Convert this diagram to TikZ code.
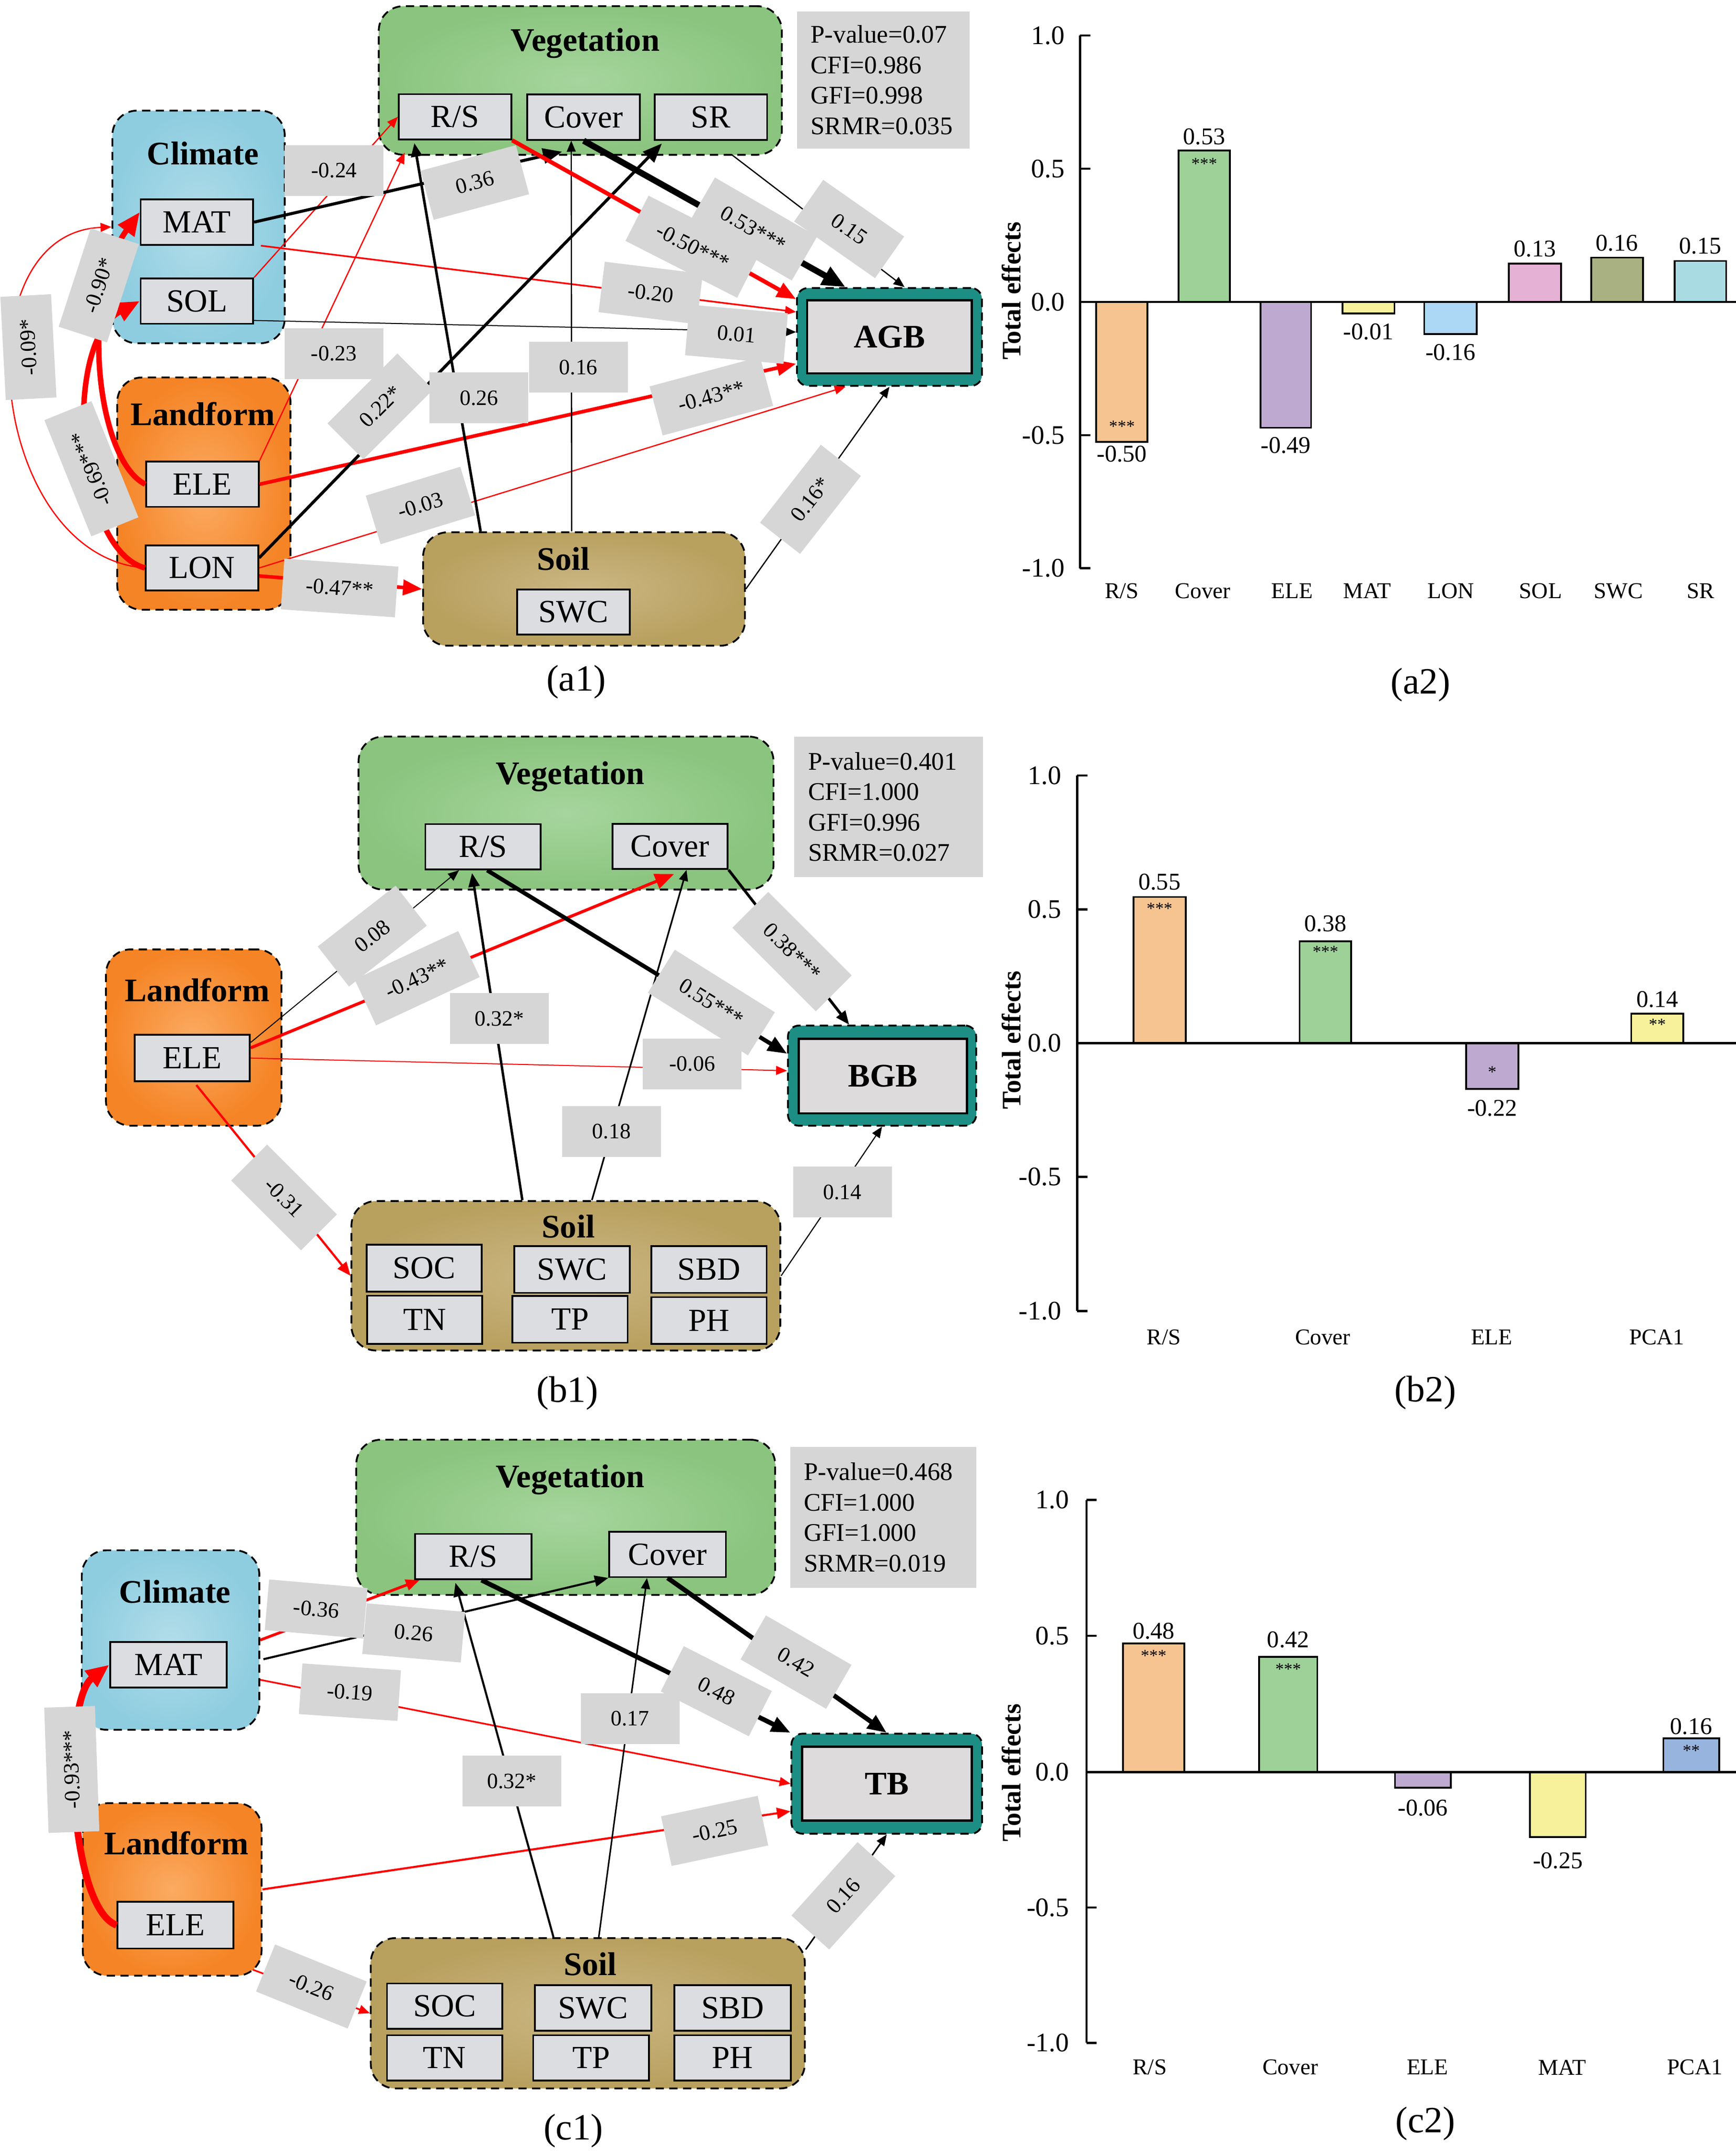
\documentclass[tikz,border=0pt]{standalone}
\usepackage{fontspec}
\setmainfont{Liberation Serif}
\usepackage{tikz}
\usetikzlibrary{arrows.meta, calc, positioning}

\definecolor{lbgray}{HTML}{D6D6D6}
\definecolor{varfill}{HTML}{DCDDE0}
\definecolor{outfill}{HTML}{DDDBDC}
\definecolor{tealbox}{HTML}{1D8E83}
\definecolor{climin}{HTML}{B2DDE9}
\definecolor{climout}{HTML}{8ECDE0}
\definecolor{landin}{HTML}{FBAB62}
\definecolor{landout}{HTML}{F58426}
\definecolor{vegin}{HTML}{A6D59D}
\definecolor{vegout}{HTML}{8AC47E}
\definecolor{soilin}{HTML}{CBB783}
\definecolor{soilout}{HTML}{B8A05F}
\definecolor{barRS}{HTML}{F5C491}
\definecolor{barCov}{HTML}{9DD198}
\definecolor{barELE}{HTML}{BEAAD0}
\definecolor{barMAT}{HTML}{F6F19A}
\definecolor{barLON}{HTML}{ACD7F5}
\definecolor{barSOL}{HTML}{E5B2D5}
\definecolor{barSWC}{HTML}{A9B182}
\definecolor{barSR}{HTML}{A9DCE2}
\definecolor{barPCA}{HTML}{97B4DE}

\begin{document}
\begin{tikzpicture}[x=1pt, y=-1pt,
		group/.style={draw, line width=1.3pt, dash pattern=on 6pt off 4pt, rounded corners=18pt, inner sep=0pt},
		climbox/.style={group, inner color=climin, outer color=climout},
		landbox/.style={group, inner color=landin, outer color=landout},
		vegbox/.style={group, inner color=vegin, outer color=vegout},
		soilbox/.style={group, inner color=soilin, outer color=soilout},
		gtitle/.style={font=\fontsize{24}{26}\selectfont\bfseries},
		var/.style={draw, line width=1.3pt, fill=varfill, minimum width=82pt, minimum height=33pt, inner sep=0pt, font=\fontsize{23.5}{25}\selectfont},
		outcome/.style={draw, line width=1.3pt, dash pattern=on 6pt off 4pt, rounded corners=8pt, fill=tealbox, inner sep=0pt},
		target/.style={draw, line width=1.6pt, fill=outfill, inner sep=0pt, font=\fontsize{24}{26}\selectfont\bfseries},
		stats/.style={fill=lbgray, inner xsep=10pt, inner ysep=0pt, align=left, font=\fontsize{18.5}{22.2}\selectfont},
		coef/.style={fill=lbgray, inner xsep=17pt, inner ysep=0pt, minimum width=72pt, minimum height=37pt, font=\fontsize{16}{18}\selectfont},
		negr/.style={draw=red},
		pthin/.style={-{Triangle[length=8pt,width=6.5pt]}, line width=0.9pt},
		pmed/.style={-{Triangle[length=10pt,width=8pt]}, line width=1.6pt},
		pthick/.style={-{Triangle[length=14pt,width=11pt]}, line width=2.6pt},
		pheavy/.style={-{Triangle[length=17pt,width=14pt]}, line width=4pt},
		capt/.style={font=\fontsize{27}{30}\selectfont},
		axisl/.style={line width=1.6pt},
		barbox/.style={draw, line width=1.3pt},
		ticklab/.style={anchor=east, font=\fontsize{19.5}{21}\selectfont},
		ylab/.style={rotate=90, font=\fontsize{19.5}{21}\selectfont\bfseries},
		xlab/.style={font=\fontsize{16.5}{18}\selectfont},
		val/.style={font=\fontsize{17.5}{19}\selectfont},
		sig/.style={font=\fontsize{12.5}{14}\selectfont}
		]
	\useasboundingbox (0,0) rectangle (1265.1,1567.6);

	% --- (a1) : AGB ---
	\node[vegbox, minimum width=293.8pt, minimum height=108.3pt] (VegA) at (422.9,58.65) {};
	\node[climbox, minimum width=125.6pt, minimum height=169.6pt] (ClimA) at (144.7,165.4) {};
	\node[landbox, minimum width=126.3pt, minimum height=169.3pt] (LandA) at (148.55,359.75) {};
	\node[soilbox, minimum width=234.6pt, minimum height=82.7pt] (SoilA) at (425.6,429.25) {};
	\node[gtitle] (VegAt) at (426.5,31.6) {Vegetation};
	\node[gtitle] (ClimAt) at (147.8,111.9) {Climate};
	\node[gtitle] (LandAt) at (147.8,301.6) {Landform};
	\node[gtitle] (SoilAt) at (410.6,407.4) {Soil};
	\node[stats, text width=105.7pt, minimum height=99.9pt] (StatA) at (643.65,58.35) {P-value=0.07\\CFI=0.986\\GFI=0.998\\SRMR=0.035};
	\node[outcome, minimum width=134.8pt, minimum height=71.3pt] (AGB) at (648.2,245.55) {};
	\node[target, minimum width=120pt, minimum height=53.2pt] (AGBt) at (648.2,245.5) {AGB};

	\node[var] (RSa) at (331.6,85.1) {R/S};
	\node[var] (Cova) at (425.3,85.4) {Cover};
	\node[var] (SRa) at (518,85.4) {SR};
	\node[var] (MATa) at (143.5,161.9) {MAT};
	\node[var] (SOLa) at (143.5,219.4) {SOL};
	\node[var] (ELEa) at (147.5,352.9) {ELE};
	\node[var] (LONa) at (147.2,413.9) {LON};
	\node[var] (SWCa) at (417.9,446) {SWC};

	\draw[pthin, negr] (LONa.west) .. controls (-8,405) and (-30,170) .. (ClimA.west);
	\draw[pheavy, negr] (ELEa.west) .. controls (70,335) and (58,215) .. (MATa.170);
	\draw[pheavy, negr] (LONa.west) .. controls (55,400) and (45,250) .. (SOLa.west);
	\draw[pthin, negr] (SOLa.north east) -- (RSa.west);
	\draw[pthin, negr] (ELEa.north east) -- ($(RSa.south west)+(5,9)$);
	\draw[pthick, line width=2.2pt] (MATa.east) -- ($(Cova.south west)+(26,8)$);
	\draw[pthin, negr, line width=1.2pt] ($(MATa.south east)+(5,0)$) -- (AGB.165);
	\draw[pthin, line width=0.7pt] ($(SOLa.south east)+(0,-3)$) -- (AGB.177);
	\draw[pthick, negr] (ELEa.east) -- (AGB.196);
	\draw[pthin, negr] (LONa.east) -- ($(AGB.south)+(-32,0)$);
	\draw[pthick, line width=2.2pt] (LONa.10) -- ($(SRa.south west)+(6,2)$);
	\draw[pthick, negr] (LONa.-8) -- (SoilA.west);
	\draw[pmed, line width=1.9pt] ($(SoilA.north west)+(42.6,0)$) -- ($(RSa.south west)+(12,2)$);
	\draw[pthin] ($(SoilA.north)+(-9,0)$) -- ($(Cova.south)+(-9,0)$);
	\draw[pthick, negr, line width=3pt] (RSa.south east) -- (AGB.158);
	\draw[pheavy, line width=4.5pt] (Cova.south) -- ($(AGB.north)+(-32,0)$);
	\draw[pthin] ($(SRa.south)+(15,10)$) -- ($(AGB.north)+(11,0)$);
	\draw[pthin] (SoilA.east) -- (AGB.south);

	\node[coef, rotate=93] (ca1) at (20.7,253) {-0.09*};
	\node[coef, rotate=72] (ca2) at (72,208) {-0.90*};
	\node[coef, rotate=112] (ca3) at (66.6,341.6) {-0.69***};
	\node[coef] (ca4) at (243.5,124.3) {-0.24};
	\node[coef] (ca18) at (243.3,257.7) {-0.23};
	\node[coef, rotate=15] (ca5) at (346,133) {0.36};
	\node[coef, rotate=-7] (ca6) at (474.2,213.5) {-0.20};
	\node[coef, rotate=-5] (ca7) at (536.7,243.6) {0.01};
	\node[coef, rotate=15] (ca8) at (518.4,288.7) {-0.43**};
	\node[coef, rotate=17] (ca9) at (306.4,368.4) {-0.03};
	\node[coef, rotate=45] (ca10) at (277.2,296.2) {0.22*};
	\node[coef, rotate=-4] (ca11) at (247.5,428.5) {-0.47**};
	\node[coef] (ca12) at (349,290) {0.26};
	\node[coef] (ca13) at (421.5,267.6) {0.16};
	\node[coef, rotate=-27] (ca14) at (504.9,179.8) {-0.50***};
	\node[coef, rotate=-30] (ca15) at (549,166.9) {0.53***};
	\node[coef, rotate=-35] (ca16) at (618.8,166.9) {0.15};
	\node[coef, rotate=52] (ca17) at (590.6,363.9) {0.16*};
	\node[capt] (capa1) at (420,497) {(a1)};

	% --- (a2) : total effects on AGB ---
	\draw[barbox, fill=barRS] (798.9,220) rectangle (836.2,322);
	\draw[barbox, fill=barCov] (858.9,220) rectangle (896.2,109.8);
	\draw[barbox, fill=barELE] (918.6,220) rectangle (955.5,311.7);
	\draw[barbox, fill=barMAT] (978.3,220) rectangle (1016.2,228.4);
	\draw[barbox, fill=barLON] (1037.9,220) rectangle (1076.2,243.5);
	\draw[barbox, fill=barSOL] (1099.6,220) rectangle (1137.6,192.2);
	\draw[barbox, fill=barSWC] (1159.6,220) rectangle (1197.3,187.7);
	\draw[barbox, fill=barSR] (1220.3,220) rectangle (1257.9,190.2);
	\draw[axisl] (787.1,25.8) -- (787.1,414.1);
	\draw[axisl] (787.1,25.8) -- (794.6,25.8);
	\draw[axisl] (787.1,122.9) -- (794.6,122.9);
	\draw[axisl] (787.1,317.1) -- (794.6,317.1);
	\draw[axisl] (787.1,414.1) -- (794.6,414.1);
	\draw[axisl] (787.1,220) -- (1265.1,220);
	\node[ticklab] (a2t1) at (779.3,25.8) {1.0};
	\node[ticklab] (a2t2) at (779.3,122.9) {0.5};
	\node[ticklab] (a2t3) at (779.3,220) {0.0};
	\node[ticklab] (a2t4) at (779.3,317.1) {-0.5};
	\node[ticklab] (a2t5) at (779.3,414.1) {-1.0};
	\node[ylab] (a2y) at (737,212) {Total effects};
	\node[val] (a2v1) at (817.6,331) {-0.50};
	\node[val] (a2v2) at (877.6,99.6) {0.53};
	\node[val] (a2v3) at (937,324.6) {-0.49};
	\node[val] (a2v4) at (997.2,241.6) {-0.01};
	\node[val] (a2v5) at (1057,256.8) {-0.16};
	\node[val] (a2v6) at (1118.6,181.5) {0.13};
	\node[val] (a2v7) at (1178.4,177) {0.16};
	\node[val] (a2v8) at (1239.1,179.3) {0.15};
	\node[sig] (a2s1) at (817.6,310.7) {***};
	\node[sig] (a2s2) at (877.6,119.5) {***};
	\node[xlab] (a2x1) at (817.6,430.6) {R/S};
	\node[xlab] (a2x2) at (876.6,430.6) {Cover};
	\node[xlab] (a2x3) at (941.6,430.6) {ELE};
	\node[xlab] (a2x4) at (996.2,430.6) {MAT};
	\node[xlab] (a2x5) at (1057.2,430.6) {LON};
	\node[xlab] (a2x6) at (1122.7,430.6) {SOL};
	\node[xlab] (a2x7) at (1179.3,430.6) {SWC};
	\node[xlab] (a2x8) at (1239.3,430.6) {SR};
	\node[capt] (capa2) at (1035.2,499) {(a2)};

	% --- (b1) : BGB ---
	\node[vegbox, minimum width=302.4pt, minimum height=111.5pt] (VegB) at (412.5,592.55) {};
	\node[landbox, minimum width=127.9pt, minimum height=128.5pt] (LandB) at (141.15,756.15) {};
	\node[soilbox, minimum width=312.5pt, minimum height=108.9pt] (SoilB) at (412.35,929.75) {};
	\node[gtitle] (VegBt) at (415.5,565.9) {Vegetation};
	\node[gtitle] (LandBt) at (143.8,721.6) {Landform};
	\node[gtitle] (SoilBt) at (414.2,893.7) {Soil};
	\node[stats, text width=117.4pt, minimum height=102.4pt] (StatB) at (647.6,588) {P-value=0.401\\CFI=1.000\\GFI=0.996\\SRMR=0.027};
	\node[outcome, minimum width=137.2pt, minimum height=73pt] (BGB) at (642.8,783.9) {};
	\node[target, minimum width=122.6pt, minimum height=54.3pt] (BGBt) at (643.3,784.2) {BGB};

	\node[var, minimum width=84pt] (RSb) at (352,617.1) {R/S};
	\node[var, minimum width=84pt] (Covb) at (488.3,616.8) {Cover};
	\node[var, minimum width=84pt, minimum height=34pt] (ELEb) at (140.1,771.1) {ELE};
	\node[var, minimum width=84pt, minimum height=34pt] (SOCb) at (309.1,924.2) {SOC};
	\node[var, minimum width=84pt, minimum height=35pt] (TNb) at (309.5,961.8) {TN};
	\node[var, minimum width=84pt, minimum height=34pt] (SWCb) at (416.9,925.2) {SWC};
	\node[var, minimum width=84pt, minimum height=34pt] (TPb) at (415.4,961.5) {TP};
	\node[var, minimum width=84pt, minimum height=34pt] (SBDb) at (516.7,925.2) {SBD};
	\node[var, minimum width=84pt, minimum height=34pt] (PHb) at (516.7,962.3) {PH};

	\draw[pthin, line width=0.7pt] (ELEb.15) -- ($(RSb.south)+(-17.5,0)$);
	\draw[pthick, negr, line width=2.2pt] (ELEb.10) -- ($(Covb.south)+(3,3)$);
	\draw[pthin, negr, line width=0.7pt] (ELEb.east) -- (BGB.177);
	\draw[pmed, negr] ($(ELEb.south)+(3,2)$) -- (SoilB.west);
	\draw[pmed, line width=1.8pt] ($(SoilB.north)+(-31.7,0)$) -- ($(RSb.south)+(-8,2)$);
	\draw[pthin, line width=1.2pt] ($(SoilB.north)+(19,0)$) -- ($(Covb.south)+(12,0)$);
	\draw[pthick, line width=3pt] ($(RSb.south)+(3,0)$) -- (BGB.167);
	\draw[pmed, line width=2pt] (Covb.south east) -- ($(BGB.north)+(-24,0)$);
	\draw[pthin, line width=0.8pt] (SoilB.east) -- (BGB.south);

	\node[coef, rotate=38] (cb1) at (271.3,682.2) {0.08};
	\node[coef, rotate=25] (cb2) at (304,712.9) {-0.43**};
	\node[coef] (cb3) at (504.5,775.3) {-0.06};
	\node[coef, rotate=-45] (cb4) at (207,872.7) {-0.31};
	\node[coef] (cb5) at (364,742.3) {0.32*};
	\node[coef] (cb6) at (445.7,824.5) {0.18};
	\node[coef, rotate=-32] (cb7) at (518.4,730.6) {0.55***};
	\node[coef, rotate=-45] (cb8) at (577.2,693.5) {0.38***};
	\node[coef] (cb9) at (613.9,868.7) {0.14};
	\node[capt] (capb1) at (413.5,1015.5) {(b1)};

	% --- (b2) : total effects on BGB ---
	\draw[barbox, fill=barRS] (826,760.3) rectangle (864,653.7);
	\draw[barbox, fill=barCov] (947.1,760.3) rectangle (984.7,686);
	\draw[barbox, fill=barELE] (1068.4,760.3) rectangle (1106.4,793.6);
	\draw[barbox, fill=barMAT] (1188.8,760.3) rectangle (1226.7,738.7);
	\draw[axisl] (785,565.2) -- (785,955.4);
	\draw[axisl] (785,565.2) -- (792.5,565.2);
	\draw[axisl] (785,662.8) -- (792.5,662.8);
	\draw[axisl] (785,857.6) -- (792.5,857.6);
	\draw[axisl] (785,955.4) -- (792.5,955.4);
	\draw[axisl] (785,760.3) -- (1265.1,760.3);
	\node[ticklab] (b2t1) at (776.9,565.2) {1.0};
	\node[ticklab] (b2t2) at (776.9,662.8) {0.5};
	\node[ticklab] (b2t3) at (776.9,760.3) {0.0};
	\node[ticklab] (b2t4) at (776.9,857.6) {-0.5};
	\node[ticklab] (b2t5) at (776.9,955.4) {-1.0};
	\node[ylab] (b2y) at (737,758) {Total effects};
	\node[val] (b2v1) at (845,642.8) {0.55};
	\node[val] (b2v2) at (965.9,673.1) {0.38};
	\node[val] (b2v3) at (1087.4,807.5) {-0.22};
	\node[val] (b2v4) at (1207.8,728.4) {0.14};
	\node[sig] (b2s1) at (845,662.1) {***};
	\node[sig] (b2s2) at (965.9,693.5) {***};
	\node[sig] (b2s3) at (1087.4,781.3) {*};
	\node[sig] (b2s4) at (1207.8,746.8) {**};
	\node[xlab] (b2x1) at (848.1,974.5) {R/S};
	\node[xlab] (b2x2) at (964,974.5) {Cover};
	\node[xlab] (b2x3) at (1087.1,974.5) {ELE};
	\node[xlab] (b2x4) at (1207.4,974.5) {PCA1};
	\node[capt] (capb2) at (1038.6,1014.9) {(b2)};

	% --- (c1) : TB ---
	\node[vegbox, minimum width=305.3pt, minimum height=113.1pt] (VegC) at (412.25,1105.75) {};
	\node[climbox, minimum width=129.4pt, minimum height=130.8pt] (ClimC) at (124.3,1195.2) {};
	\node[landbox, minimum width=130.3pt, minimum height=125.7pt] (LandC) at (125.45,1376.95) {};
	\node[soilbox, minimum width=316.3pt, minimum height=109.6pt] (SoilC) at (428.35,1467.2) {};
	\node[gtitle] (VegCt) at (415.5,1078.4) {Vegetation};
	\node[gtitle] (ClimCt) at (127.5,1159.9) {Climate};
	\node[gtitle] (LandCt) at (128.6,1343.2) {Landform};
	\node[gtitle] (SoilCt) at (430.2,1431.2) {Soil};
	\node[stats, text width=115.7pt, minimum height=102.8pt] (StatC) at (643.7,1105.8) {P-value=0.468\\CFI=1.000\\GFI=1.000\\SRMR=0.019};
	\node[outcome, minimum width=138.9pt, minimum height=72.9pt] (TB) at (646.2,1299.9) {};
	\node[target, minimum width=123.7pt, minimum height=53.7pt] (TBt) at (646.4,1299.9) {TB};

	\node[var, minimum width=85pt] (RSc) at (344.9,1134.4) {R/S};
	\node[var, minimum width=85pt] (Covc) at (486.5,1132.8) {Cover};
	\node[var, minimum width=85pt] (MATc) at (122.8,1213.2) {MAT};
	\node[var, minimum width=84.4pt, minimum height=34pt] (ELEc) at (127.8,1403) {ELE};
	\node[var, minimum width=84pt] (SOCc) at (324,1462) {SOC};
	\node[var, minimum width=84pt] (TNc) at (324,1499.7) {TN};
	\node[var, minimum width=85pt] (SWCc) at (432.2,1463.3) {SWC};
	\node[var, minimum width=84.5pt] (TPc) at (430.8,1499.7) {TP};
	\node[var, minimum width=85pt] (SBDc) at (533.9,1463.3) {SBD};
	\node[var, minimum width=85pt] (PHc) at (533.9,1499.7) {PH};

	\draw[pheavy, negr, line width=5pt] (ELEc.west) .. controls (50,1390) and (45,1240) .. (MATc.west);
	\draw[pmed, negr, line width=2pt] (ClimC.east) -- ($(RSc.south west)+(4,0)$);
	\draw[pmed, line width=1.5pt] ($(MATc.east)+(26,-4)$) -- (Covc.south west);
	\draw[pthin, negr, line width=1.2pt] ($(ClimC.east)+(0,29)$) -- (TB.west);
	\draw[pmed, negr, line width=1.5pt] (LandC.east) -- (TB.196);
	\draw[pthin, negr, line width=1.2pt] ($(LandC.south east)+(-7,-5)$) -- (SoilC.west);
	\draw[pmed, line width=1.5pt] ($(SoilC.north)+(-25,0)$) -- ($(RSc.south)+(-13,2)$);
	\draw[pthin, line width=1.1pt] ($(SoilC.north)+(8,0)$) -- ($(Covc.south)+(-15,0)$);
	\draw[pthick, line width=3.4pt] ($(RSc.south)+(6,0)$) -- (TB.north west);
	\draw[pthick, line width=3.4pt] (Covc.south) -- (TB.north);
	\draw[pthin, line width=1.1pt] ($(SoilC.north east)+(0,9)$) -- (TB.south);

	\node[coef, rotate=92] (cc1) at (52.3,1289.5) {-0.93***};
	\node[coef, rotate=-5] (cc2) at (230.4,1172.6) {-0.36};
	\node[coef, rotate=-5] (cc3) at (301.5,1190) {0.26};
	\node[coef, rotate=-4] (cc4) at (255,1233.2) {-0.19};
	\node[coef, rotate=12] (cc5) at (520.8,1334.3) {-0.25};
	\node[coef, rotate=-22] (cc6) at (226.9,1447.7) {-0.26};
	\node[coef] (cc7) at (373,1298) {0.32*};
	\node[coef] (cc8) at (459.2,1252.5) {0.17};
	\node[coef, rotate=-27] (cc9) at (522,1232.5) {0.48};
	\node[coef, rotate=-30] (cc10) at (580.1,1211.3) {0.42};
	\node[coef, rotate=48] (cc11) at (614.6,1381.6) {0.16};
	\node[capt] (capc1) at (417.9,1552.9) {(c1)};

	% --- (c2) : total effects on TB ---
	\draw[barbox, fill=barRS] (818.3,1291.5) rectangle (863,1197.6);
	\draw[barbox, fill=barCov] (917.6,1291.5) rectangle (960,1207.5);
	\draw[barbox, fill=barELE] (1016.6,1291.5) rectangle (1057.2,1302.8);
	\draw[barbox, fill=barMAT] (1114.9,1291.5) rectangle (1155.6,1338.7);
	\draw[barbox, fill=barPCA] (1212.2,1291.5) rectangle (1252.8,1266.8);
	\draw[axisl] (791.8,1093.1) -- (791.8,1488.8);
	\draw[axisl] (791.8,1093.1) -- (799.3,1093.1);
	\draw[axisl] (791.8,1192.1) -- (799.3,1192.1);
	\draw[axisl] (791.8,1390.1) -- (799.3,1390.1);
	\draw[axisl] (791.8,1488.8) -- (799.3,1488.8);
	\draw[axisl] (791.8,1291.5) -- (1265.1,1291.5);
	\node[ticklab] (c2t1) at (782.7,1093.1) {1.0};
	\node[ticklab] (c2t2) at (782.7,1192.1) {0.5};
	\node[ticklab] (c2t3) at (782.7,1291.5) {0.0};
	\node[ticklab] (c2t4) at (782.7,1390.1) {-0.5};
	\node[ticklab] (c2t5) at (782.7,1488.8) {-1.0};
	\node[ylab] (c2y) at (737,1292) {Total effects};
	\node[val] (c2v1) at (840.7,1188.7) {0.48};
	\node[val] (c2v2) at (938.8,1194.8) {0.42};
	\node[val] (c2v3) at (1036.9,1317.5) {-0.06};
	\node[val] (c2v4) at (1135.3,1355.9) {-0.25};
	\node[val] (c2v5) at (1232.5,1258.2) {0.16};
	\node[sig] (c2s1) at (840.7,1206.8) {***};
	\node[sig] (c2s2) at (938.8,1216.4) {***};
	\node[sig] (c2s3) at (1232.5,1276) {**};
	\node[xlab] (c2x1) at (837.9,1506.6) {R/S};
	\node[xlab] (c2x2) at (940.3,1506.6) {Cover};
	\node[xlab] (c2x3) at (1040.3,1506.6) {ELE};
	\node[xlab] (c2x4) at (1138.6,1506.6) {MAT};
	\node[xlab] (c2x5) at (1235.2,1506.6) {PCA1};
	\node[capt] (capc2) at (1038.6,1547.7) {(c2)};

\end{tikzpicture}
\end{document}
